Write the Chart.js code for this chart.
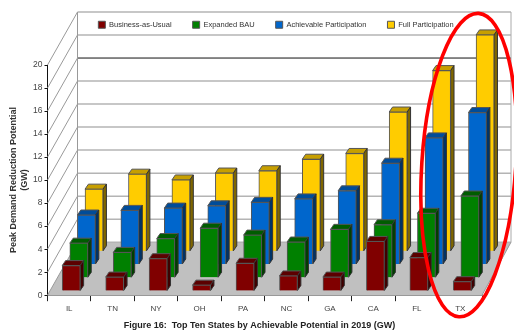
<!DOCTYPE html>
<html>
<head>
<meta charset="utf-8">
<script src="https://cdn.jsdelivr.net/npm/chart.js@4/dist/chart.umd.min.js"></script>
<style>
    html, body { margin: 0; padding: 0; background: #fff; }
    canvas { display: block; }
</style>
</head>
<body>
<canvas id="myChart" width="514" height="331"></canvas>
<script>
const states = ['IL', 'TN', 'NY', 'OH', 'PA', 'NC', 'GA', 'CA', 'FL', 'TX'];
const businessAsUsual = [2.2, 1.2, 2.8, 0.5, 2.4, 1.3, 1.2, 4.3, 2.9, 0.8];
const expandedBau = [3.0, 2.2, 3.4, 4.3, 3.7, 3.1, 4.2, 4.6, 5.6, 7.1];
const achievable = [4.3, 4.7, 4.9, 5.1, 5.4, 5.7, 6.4, 8.8, 11.0, 13.2];
const fullParticipation = [5.4, 6.7, 6.2, 6.8, 7.0, 8.0, 8.5, 12.1, 15.7, 18.8];
const yTicks = [0, 2, 4, 6, 8, 10, 12, 14, 16, 18, 20];

const frontColors = ['#800000', '#008000', '#0066cc', '#ffcc00'];
const topColors = ['#5c0000', '#005c00', '#004c99', '#c79f00'];
const sideColors = ['#400000', '#004000', '#003366', '#7f6600'];

// fake 3D depth, each series sits one row further back
const wallDx = 30, wallDy = -53;
const rowDx = 7.6, rowDy = -13.2, firstDx = 2, firstDy = -4.3;
const capDx = 3.4, capDy = -5;

function poly(ctx, pts, fill, stroke) {
    ctx.beginPath();
    pts.forEach((p, i) => i ? ctx.lineTo(p[0], p[1]) : ctx.moveTo(p[0], p[1]));
    ctx.closePath();
    if (fill) { ctx.fillStyle = fill; ctx.fill(); }
    if (stroke) { ctx.strokeStyle = stroke; ctx.lineWidth = 1; ctx.stroke(); }
}

function line(ctx, x1, y1, x2, y2, color, width) {
    ctx.beginPath();
    ctx.moveTo(x1, y1);
    ctx.lineTo(x2, y2);
    ctx.strokeStyle = color;
    ctx.lineWidth = width;
    ctx.stroke();
}

const depthPlugin = {
    id: 'depth',
    beforeUpdate(chart) {
        // room between legend and plot, legend has no afterFit hook in v4
        const legend = chart.legend;
        if (!legend._fitWrapped) {
            const fit = legend.fit;
            legend.fit = function () {
                fit.call(this);
                this.height = 65;
            };
            legend._fitWrapped = true;
        }
    },
    afterLayout(chart) {
        chart.legend.left += 35;
        chart.legend.right += 35;
        chart.titleBlock.left += 18.5;
        chart.titleBlock.right += 18.5;
    },
    beforeDatasetsDraw(chart) {
        const { ctx, chartArea: a, scales: { y } } = chart;
        const backL = a.left + wallDx, backR = a.right + wallDx - 1;
        const y0 = y.getPixelForValue(0), yTop = y.getPixelForValue(20);
        ctx.save();
        poly(ctx, [[a.left, y0], [backL, y0 + wallDy], [backR, y0 + wallDy], [a.right, y0]], '#c0c0c0');
        yTicks.forEach(v => {
            const py = y.getPixelForValue(v);
            line(ctx, a.left, py, backL, py + wallDy, '#999', 1);
            line(ctx, backL, py + wallDy, backR, py + wallDy, v === 16 ? '#111' : '#b4b4b4', v === 16 ? 1 : 1.5);
        });
        line(ctx, backL, yTop + wallDy, backL, y0 + wallDy, '#999', 1);
        line(ctx, backR, yTop + wallDy, backR, y0 + wallDy, '#aaa', 1);
        line(ctx, backR, y0 + wallDy, a.right, y0, '#999', 1);
        ctx.restore();
    },
    beforeDatasetDraw(chart, args) {
        const ctx = chart.ctx, row = args.index;
        ctx.save();
        ctx.translate(firstDx + rowDx * row, firstDy + rowDy * row);
        args.meta.data.forEach(bar => {
            const b = bar.getProps(['x', 'y', 'base', 'width'], true);
            const l = b.x - b.width / 2, r = b.x + b.width / 2;
            poly(ctx, [[l, b.y], [l + capDx, b.y + capDy], [r + capDx, b.y + capDy], [r, b.y]], topColors[row], '#555');
            poly(ctx, [[r, b.y], [r + capDx, b.y + capDy], [r + capDx, b.base + capDy], [r, b.base]], sideColors[row], '#333');
        });
    },
    afterDatasetDraw(chart) {
        chart.ctx.restore();
    },
    afterDraw(chart) {
        // red hand drawn ring round the last state
        const { ctx, scales: { x }, chartArea: a } = chart;
        ctx.save();
        ctx.beginPath();
        ctx.ellipse(x.getPixelForValue(9) + 8.5, (a.top + a.bottom) / 2 - 15, 47, 152, 0.065, 0, Math.PI * 2);
        ctx.strokeStyle = '#ff0000';
        ctx.lineWidth = 3.6;
        ctx.stroke();
        ctx.restore();
    }
};

function makeSeries(label, data, i) {
    return {
        label: label,
        data: data,
        backgroundColor: frontColors[i],
        borderColor: '#555',
        borderWidth: 1,
        barThickness: 18,
        grouped: false,
        clip: false
    };
}

new Chart(document.getElementById('myChart'), {
    type: 'bar',
    data: {
        labels: states,
        datasets: [
            makeSeries('Business-as-Usual', businessAsUsual, 0),
            makeSeries('Expanded BAU', expandedBau, 1),
            makeSeries('Achievable Participation', achievable, 2),
            makeSeries('Full Participation', fullParticipation, 3)
        ]
    },
    plugins: [depthPlugin],
    options: {
        responsive: false,
        animation: false,
        layout: { padding: { left: 0, right: 32, top: 0, bottom: 0 } },
        plugins: {
            legend: {
                position: 'top',
                onClick: null,
                labels: {
                    boxWidth: 7,
                    boxHeight: 7,
                    padding: 21,
                    color: '#333',
                    font: { family: 'Liberation Sans', size: 7.5 }
                }
            },
            title: {
                display: true,
                position: 'bottom',
                text: 'Figure 16:  Top Ten States by Achievable Potential in 2019 (GW)',
                color: '#222',
                padding: 0,
                font: { family: 'Liberation Sans', size: 9, weight: 'bold' }
            },
            tooltip: { enabled: false }
        },
        scales: {
            x: {
                afterFit(scale) { scale.height = 25; },
                border: { color: '#8c8c8c', width: 2 },
                grid: { drawOnChartArea: false, tickColor: '#222', tickLength: 6 },
                ticks: {
                    color: '#444',
                    padding: 3,
                    maxRotation: 0,
                    font: { family: 'Liberation Sans', size: 8 }
                }
            },
            y: {
                min: 0,
                max: 20,
                afterFit(scale) { scale.width = 47.5; },
                border: { color: '#111', width: 1 },
                grid: { drawOnChartArea: false, tickColor: '#111', tickLength: 3 },
                afterBuildTicks(scale) { scale.ticks = yTicks.map(v => ({ value: v })); },
                ticks: {
                    color: '#444',
                    padding: 2,
                    font: { family: 'Liberation Sans', size: 8.5 }
                },
                title: {
                    display: true,
                    text: ['Peak Demand Reduction Potential', '(GW)'],
                    color: '#333',
                    padding: { top: 8, bottom: 0 },
                    font: { family: 'Liberation Sans', size: 9, weight: 'bold' }
                }
            }
        }
    }
});
</script>
</body>
</html>
